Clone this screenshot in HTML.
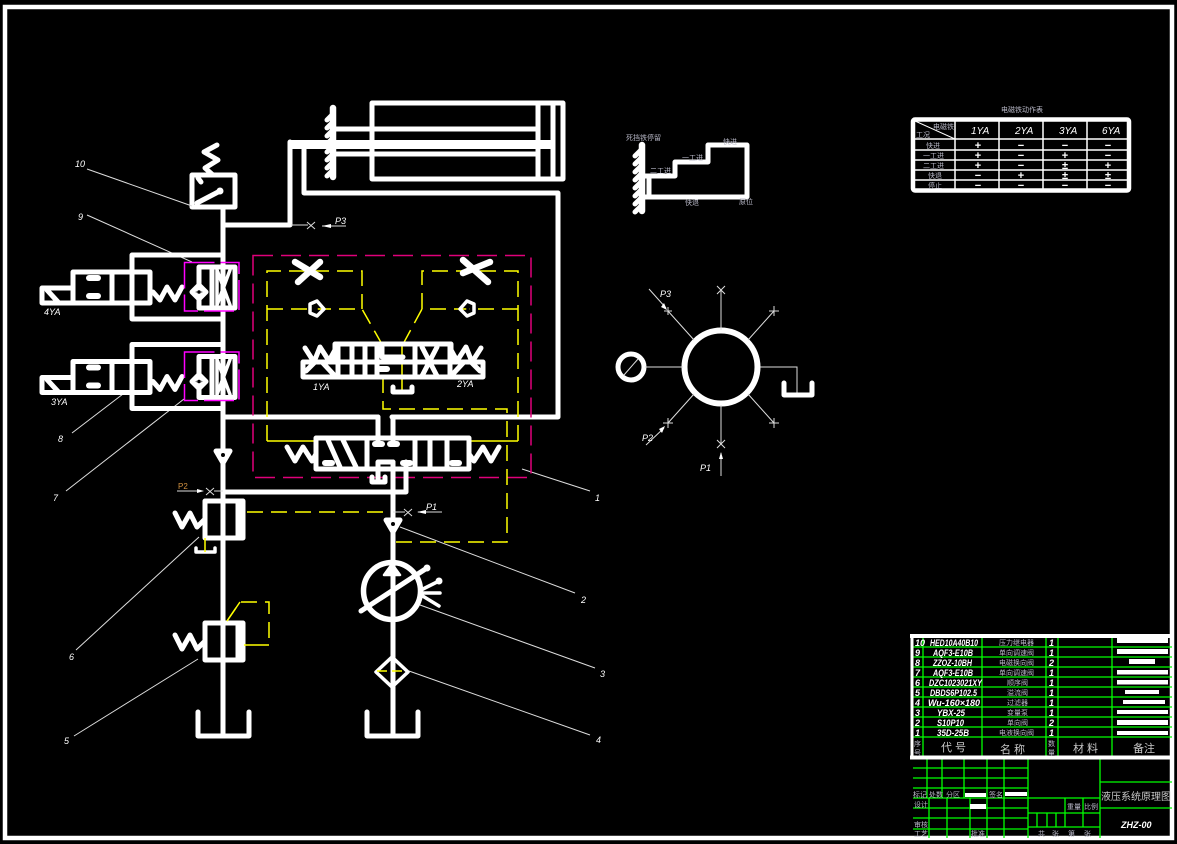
<!DOCTYPE html>
<html>
<head>
<meta charset="utf-8">
<style>
html,body{margin:0;padding:0;background:#000;width:1177px;height:844px;overflow:hidden}
svg{display:block}
.w{fill:none;stroke:#fff;stroke-width:5;stroke-linecap:round;stroke-linejoin:round}
.n{stroke-width:3.5}
.k{stroke-width:6.5}
.t{fill:none;stroke:#ddd;stroke-width:1}
.g{fill:none;stroke:#0f0;stroke-width:1.3}
.y{fill:none;stroke:#ff0;stroke-width:1.5;stroke-dasharray:16 8}
.ys{fill:none;stroke:#ff0;stroke-width:1.5}
.c{fill:none;stroke:#e0007a;stroke-width:1.5;stroke-dasharray:20 8}
.m{fill:none;stroke:#f0f;stroke-width:1.5;stroke-dasharray:30 6}
.p{fill:#fff;stroke:none}
text{font-family:"Liberation Sans","Noto Sans CJK SC",sans-serif;fill:#fff}
.i{font-style:italic;font-size:9px}
.b{font-style:italic;font-size:9px;font-weight:bold}
.z{font-size:7px;fill:#b9b9c8}
.h{font-size:11px;fill:#c8c8c8}
</style>
</head>
<body>
<svg width="1177" height="844" viewBox="0 0 1177 844" xmlns="http://www.w3.org/2000/svg">
<defs>
<g id="sol">
 <path class="w" d="M132 255H223M132 319H223M132 255V319"/>
 <path class="w" d="M73 272H150V303H73ZM112 272V303M42 288H73M42 288V303H73M47 290L58 302"/>
 <rect class="p" x="86" y="275" width="15" height="6" rx="3"/>
 <rect class="p" x="86" y="293" width="15" height="6" rx="3"/>
 <path class="w" d="M153 292L160 300L167 287L175 300L182 287"/>
 <path class="w" d="M199 267H235V308H199ZM212 267V308"/>
 <path class="w n" d="M217 270L230 305M230 270L217 305M217 270V305"/>
 <path class="w" d="M192 292L199 285L206 292L199 299Z" fill="#fff"/>
 <circle cx="199" cy="292" r="1.800" fill="#000"/>
 <rect class="m" x="184.500" y="262.500" width="54.500" height="48.500"/>
</g>
<g id="rv">
 <path class="w" d="M205 501H243V538H205ZM238 501V538"/>
 <path class="w" d="M175 513L182 527L190 513L197 527L204 520"/>
</g>
<g id="hatch">
 <path class="w" d="M0 0L-6 6M0 8L-6 14M0 16L-6 22M0 24L-6 30M0 32L-6 38M0 40L-6 46M0 48L-6 54M0 56L-6 62"/>
</g>
<g id="chk">
 <path class="w" d="M-7 -5H7L0 7Z" fill="#fff"/>
 <circle cx="0" cy="-1" r="2" fill="#000"/>
</g>
</defs>

<rect width="1177" height="844" fill="#000"/>
<rect x="5" y="7" width="1167" height="831" fill="none" stroke="#fff" stroke-width="4.500"/>

<!-- cylinder -->
<path class="w" d="M372 103H563V179H372Z"/>
<path class="w" d="M538 103V179M553 103V179"/>
<path class="w" d="M333 129H538M333 154H536"/>
<rect class="p" x="290" y="140" width="263" height="9"/>
<path class="w k" d="M333 108V177"/>
<use href="#hatch" x="333" y="114"/>
<path class="w" d="M290 142V225H223M304 145V193H558V417H392M378 417H223"/>
<path class="w" d="M223 208V736"/>

<!-- pressure switch -->
<path class="w" d="M217 145L204 152L218 160L205 168L213 175"/>
<path class="w" d="M192 175H235V207H192ZM197 203L220 191M198 178L201 182"/>
<circle cx="220" cy="191" r="3.500" fill="#fff"/>
<path class="t" d="M87 169L192 206M87 215L192 262M72 433L123 394M66 491L184 399M76 650L199 537M74 736L198 659M590 735L409 671M595 668L420 605M575 593L400 527M590 491L522 469"/>
<text class="i" x="75" y="167" font-size="8">10</text>
<text class="i" x="78" y="220">9</text>
<text class="i" x="58" y="442">8</text>
<text class="i" x="53" y="501">7</text>
<text class="i" x="69" y="660">6</text>
<text class="i" x="64" y="744">5</text>
<text class="i" x="596" y="743">4</text>
<text class="i" x="600" y="677">3</text>
<text class="i" x="581" y="603">2</text>
<text class="i" x="595" y="501">1</text>

<use href="#sol"/>
<use href="#sol" y="89.500"/>
<text class="i" x="44" y="315">4YA</text>
<text class="i" x="51" y="405">3YA</text>

<!-- frames -->
<rect class="c" x="253" y="255.500" width="278" height="222"/>
<path class="y" d="M267 441V271H362V309M267 309H362L383 346"/>
<path class="y" d="M518 441V271H422V309M518 309H422L402 346"/>
<path class="ys" d="M267 441H316M518 441H468M402 346V390"/>
<path class="y" d="M383 377V409H507V542H392M247 512H392"/>

<!-- throttle / check in pilot stage -->
<path class="w k" d="M295 262L320 277M320 262L298 282"/>
<path class="w k" d="M463 260L488 282M490 262L463 273"/>
<path class="w n" d="M310 304L317 301L324 309L317 316L310 313Z" fill="#fff"/>
<circle cx="316" cy="309" r="1.800" fill="#000"/>
<path class="w n" d="M460 309L467 301L474 304V313L467 316Z" fill="#fff"/>
<circle cx="468" cy="309" r="1.800" fill="#000"/>

<!-- pilot valve -->
<path class="w" d="M303 362H483V377H303ZM335 344H451V362M335 344V362"/>
<path class="w" d="M338 344V377M352 344V377M365 344V377M377 344V377M415 344V377M450 344V377"/>
<path class="w" d="M422 347L437 376M437 347L422 376"/>
<path class="w" d="M382 347V357H403"/>
<path class="w" d="M305 348L314 362L320 347L329 361L335 350M481 348L472 362L466 347L457 361L451 350"/>
<path class="w" d="M315 362L306 371M471 362L480 371M322 362L335 376M464 362L451 376"/>
<rect class="p" x="377" y="366" width="13" height="6" rx="3"/>
<path class="w" d="M393 387V392H412V387"/>
<text class="i" x="313" y="390">1YA</text>
<text class="i" x="457" y="387">2YA</text>

<!-- main valve -->
<path class="w" d="M378 417V442M393 417V442"/>
<path class="w" d="M316 438H469V469H316Z"/>
<path class="w" d="M367 438V469M415 438V469M430 438V469M447 438V469"/>
<path class="w" d="M328 440L340 467M343 440L356 467"/>
<rect class="p" x="372" y="441" width="13" height="6" rx="3"/>
<rect class="p" x="387" y="441" width="13" height="6" rx="3"/>
<rect class="p" x="322" y="460" width="13" height="6" rx="3"/>
<rect class="p" x="449" y="460" width="13" height="6" rx="3"/>
<rect class="p" x="400" y="460" width="13" height="6" rx="3"/>
<path class="w" d="M378 469V462H393M393 462V469"/>
<path class="w" d="M287 447L295 461L303 447L312 461L316 454M499 447L491 461L483 447L474 461L469 454"/>

<!-- pressure lines -->
<path class="w" d="M393 462V736M406 462V492H223"/>
<path class="w" d="M372 477V482H385V477M378 469V480"/>
<use href="#chk" x="393" y="525"/>
<use href="#chk" x="223" y="456"/>
<circle cx="393" cy="512" r="2.500" fill="#fff"/>
<circle cx="393" cy="542" r="2.500" fill="#fff"/>

<!-- P marks -->
<path class="t" d="M393 512H405M404 509L412 516M412 509L404 516M418 512H442"/>
<path d="M426 510L417 512L426 514Z" fill="#fff"/>
<text class="i" x="426" y="510">P1</text>
<path class="t" d="M177 491H201M206 488L214 495M214 488L206 495M214 491H223"/>
<path d="M197 489L204 491L197 493Z" fill="#fff"/>
<text x="178" y="489" font-size="8" style="fill:#d09040">P2</text>
<path class="t" d="M291 225H308M307 222L315 229M315 222L307 229M322 226H346"/>
<path d="M331 224L322 226L331 228Z" fill="#fff"/>
<text class="i" x="335" y="224">P3</text>

<!-- relief valves -->
<use href="#rv"/>
<use href="#rv" y="122"/>
<path class="w n" d="M196 548V552H215V548"/>
<path class="ys" d="M205 538V552"/>
<path class="y" d="M227 621L240 602H269V645"/>
<path class="ys" d="M227 621L240 602M269 645H244"/>

<!-- tanks -->
<path class="w" d="M198 712V736H249V712M367 712V736H418V712"/>

<!-- pump -->
<circle cx="392" cy="591" r="28.500" fill="none" stroke="#fff" stroke-width="5.500"/>
<path d="M384 575L392 564L400 575Z" fill="#fff" stroke="#fff" stroke-width="2.500" stroke-linejoin="round"/>
<path class="w" d="M361 611L427 568"/>
<circle cx="427" cy="568" r="3.500" fill="#fff"/>
<path class="w n" d="M421 593H440M421 590L439 581M421 595L439 606"/>
<circle cx="439" cy="581" r="3.500" fill="#fff"/>
<path class="w n" d="M392 657L408 672L392 687L376 672Z" fill="#000"/>
<path class="ys" style="stroke-dasharray:10 5" d="M377 671H407"/>

<!-- step diagram -->
<path class="w k" d="M642 145V211"/>
<use href="#hatch" x="641" y="150"/>
<path class="w" d="M645 176H675V162H708V145H747V197H645M649 176V197"/>
<text class="z" x="626" y="140">死挡铁停留</text>
<text class="z" x="723" y="144">快进</text>
<text class="z" x="682" y="160">一工进</text>
<text class="z" x="650" y="173">二工进</text>
<text class="z" x="685" y="205">快退</text>
<text class="z" x="739" y="204">原位</text>

<!-- port diagram -->
<circle cx="721" cy="367" r="36.500" fill="none" stroke="#fff" stroke-width="6"/>
<circle cx="631" cy="367" r="13" fill="none" stroke="#fff" stroke-width="5"/>
<path class="t" d="M624 375L638 359M645 367H683M760 367H797V395M721 290V330M721 405V444M694 340L668 311M748 340L774 311M694 394L668 423M748 394L774 423"/>
<path class="t" d="M717 286L725 294M725 286L717 294M717 440L725 448M725 440L717 448M664 311H672M668 307V315M769 311H779M774 306V316M663 423H673M668 418V428M769 423H779M774 418V428"/>
<path class="t" d="M649 289L666 308M646 445L664 428M721 453V476"/>
<path d="M661 307L667 310L664 303Z" fill="#fff"/>
<path d="M659 429L665 426L662 433Z" fill="#fff"/>
<path d="M719 459L721 452L723 459Z" fill="#fff"/>
<path class="w" d="M784 383V395H812V383"/>
<text class="i" x="660" y="297">P3</text>
<text class="i" x="642" y="441">P2</text>
<text class="i" x="700" y="471">P1</text>

<!-- action table -->
<text class="z" x="1001" y="112">电磁铁动作表</text>
<rect x="913" y="119.500" width="216" height="71" fill="none" stroke="#fff" stroke-width="4.500" rx="2"/>
<g fill="none" stroke="#fff" stroke-width="1.500">
<path d="M955 121V189M999 121V189M1043 121V189M1087 121V189"/>
<path d="M915 139H1127M915 150H1127M915 160H1127M915 170H1127M915 180H1127"/>
<path d="M915 121L955 139" stroke-width="1"/>
</g>
<text class="z" x="933" y="129">电磁铁</text>
<text class="z" x="916" y="137">工况</text>
<text class="i" style="font-size:10px" x="971" y="134">1YA</text><text class="i" style="font-size:10px" x="1015" y="134">2YA</text><text class="i" style="font-size:10px" x="1059" y="134">3YA</text><text class="i" style="font-size:10px" x="1102" y="134">6YA</text>
<text class="z" x="926" y="148">快进</text>
<text class="z" x="923" y="158">一工进</text>
<text class="z" x="923" y="168">二工进</text>
<text class="z" x="928" y="178">快退</text>
<text class="z" x="928" y="188">停止</text>
<g font-size="11" font-weight="bold" text-anchor="middle">
<text x="978" y="149">+</text><text x="1021" y="149">−</text><text x="1065" y="149">−</text><text x="1108" y="149">−</text>
<text x="978" y="159">+</text><text x="1021" y="159">−</text><text x="1065" y="159">+</text><text x="1108" y="159">−</text>
<text x="978" y="169">+</text><text x="1021" y="169">−</text><text x="1065" y="169">±</text><text x="1108" y="169">+</text>
<text x="978" y="179">−</text><text x="1021" y="179">+</text><text x="1065" y="179">±</text><text x="1108" y="179">±</text>
<text x="978" y="189">−</text><text x="1021" y="189">−</text><text x="1065" y="189">−</text><text x="1108" y="189">−</text>
</g>

<!-- parts list -->
<path class="g" d="M923 636V759M982 636V759M1046 636V759M1058 636V759M1112 636V759"/>
<path class="g" d="M912 647H1172M912 657H1172M912 667H1172M912 677H1172M912 687H1172M912 697H1172M912 707H1172M912 717H1172M912 727H1172M912 737H1172"/>
<path class="g" d="M913 768H1028M913 778H1028M913 788H1028M913 798H1100M913 808H1028M913 818H1028M913 829H1028"/>
<path class="g" d="M927 759V798M942 759V798M964 759V798M987 759V838M1004 759V838M1028 759V838M929 798V838M947 798V838M970 798V838"/>
<path class="g" d="M1100 759V838M1100 782H1172M1100 808H1172M1028 813H1100M1028 827H1100M1037 813V827M1047 813V827M1056 813V827M1065 798V827M1083 798V827"/>
<path d="M910 636H1173" stroke="#fff" stroke-width="4"/>
<path d="M912 635V758" stroke="#fff" stroke-width="3"/>
<path d="M910 757.500H1173" stroke="#fff" stroke-width="4"/>
<g fill="#fff">
<rect x="1117" y="638" width="51" height="5"/><rect x="1117" y="649" width="51" height="5"/>
<rect x="1129" y="659" width="26" height="5"/><rect x="1117" y="670" width="51" height="4.500"/>
<rect x="1117" y="680" width="51" height="4.500"/><rect x="1125" y="690" width="34" height="4"/>
<rect x="1123" y="700" width="42" height="4"/><rect x="1117" y="710" width="51" height="4"/>
<rect x="1117" y="720" width="51" height="5"/><rect x="1117" y="731" width="51" height="4"/>
<rect x="965" y="793" width="21" height="4"/><rect x="1005" y="792" width="22" height="4"/>
<rect x="970" y="804" width="16" height="5"/>
</g>
<text class="b" x="915" y="646">10</text><text class="b" x="930" y="646" textLength="48" lengthAdjust="spacingAndGlyphs">HED10A40B10</text>
<text class="b" x="915" y="656">9</text><text class="b" x="933" y="656" textLength="40" lengthAdjust="spacingAndGlyphs">AQF3-E10B</text>
<text class="b" x="915" y="666">8</text><text class="b" x="933" y="666" textLength="39" lengthAdjust="spacingAndGlyphs">ZZOZ-10BH</text>
<text class="b" x="915" y="676">7</text><text class="b" x="933" y="676" textLength="40" lengthAdjust="spacingAndGlyphs">AQF3-E10B</text>
<text class="b" x="915" y="686">6</text><text class="b" x="929" y="686" textLength="53" lengthAdjust="spacingAndGlyphs">DZC1023021XY</text>
<text class="b" x="915" y="696">5</text><text class="b" x="930" y="696" textLength="47" lengthAdjust="spacingAndGlyphs">DBDS6P102.5</text>
<text class="b" x="915" y="706">4</text><text class="b" x="928" y="706" textLength="52" lengthAdjust="spacingAndGlyphs">Wu-160×180</text>
<text class="b" x="915" y="716">3</text><text class="b" x="937" y="716" textLength="28" lengthAdjust="spacingAndGlyphs">YBX-25</text>
<text class="b" x="915" y="726">2</text><text class="b" x="937" y="726" textLength="27" lengthAdjust="spacingAndGlyphs">S10P10</text>
<text class="b" x="915" y="736">1</text><text class="b" x="937" y="736" textLength="32" lengthAdjust="spacingAndGlyphs">35D-25B</text>
<text class="z" x="999" y="645">压力继电器</text><text class="z" x="999" y="655">单向调速阀</text>
<text class="z" x="999" y="665">电磁换向阀</text><text class="z" x="999" y="675">单向调速阀</text>
<text class="z" x="1007" y="685">顺序阀</text><text class="z" x="1007" y="695">溢流阀</text>
<text class="z" x="1007" y="705">过滤器</text><text class="z" x="1007" y="715">变量泵</text>
<text class="z" x="1007" y="725">单向阀</text><text class="z" x="999" y="735">电液换向阀</text>
<text class="b" x="1049" y="646">1</text><text class="b" x="1049" y="656">1</text><text class="b" x="1049" y="666">2</text><text class="b" x="1049" y="676">1</text><text class="b" x="1049" y="686">1</text><text class="b" x="1049" y="696">1</text><text class="b" x="1049" y="706">1</text><text class="b" x="1049" y="716">1</text><text class="b" x="1049" y="726">2</text><text class="b" x="1049" y="736">1</text>
<text class="z" x="914" y="746">序</text><text class="z" x="914" y="755">号</text>
<text class="h" x="941" y="751">代 号</text>
<text class="h" x="1000" y="753">名 称</text>
<text class="z" x="1048" y="746">数</text><text class="z" x="1048" y="755">量</text>
<text class="h" x="1073" y="752">材 料</text>
<text class="h" x="1133" y="752">备注</text>
<text class="z" x="913" y="797">标记</text><text class="z" x="929" y="797">处数</text><text class="z" x="946" y="797">分区</text><text class="z" x="989" y="797">签名</text>
<text class="z" x="914" y="807">设计</text><text class="z" x="914" y="827">审核</text><text class="z" x="914" y="836">工艺</text><text class="z" x="971" y="836">批准</text>
<text class="z" x="1067" y="809">重量</text><text class="z" x="1084" y="809">比例</text>
<text class="z" x="1038" y="836">共</text><text class="z" x="1052" y="836">张</text><text class="z" x="1068" y="836">第</text><text class="z" x="1084" y="836">张</text>
<text x="1101" y="800" font-size="10" style="fill:#c8c8c8" textLength="70">液压系统原理图</text>
<text class="b" x="1121" y="828">ZHZ-00</text>
</svg>
</body>
</html>
